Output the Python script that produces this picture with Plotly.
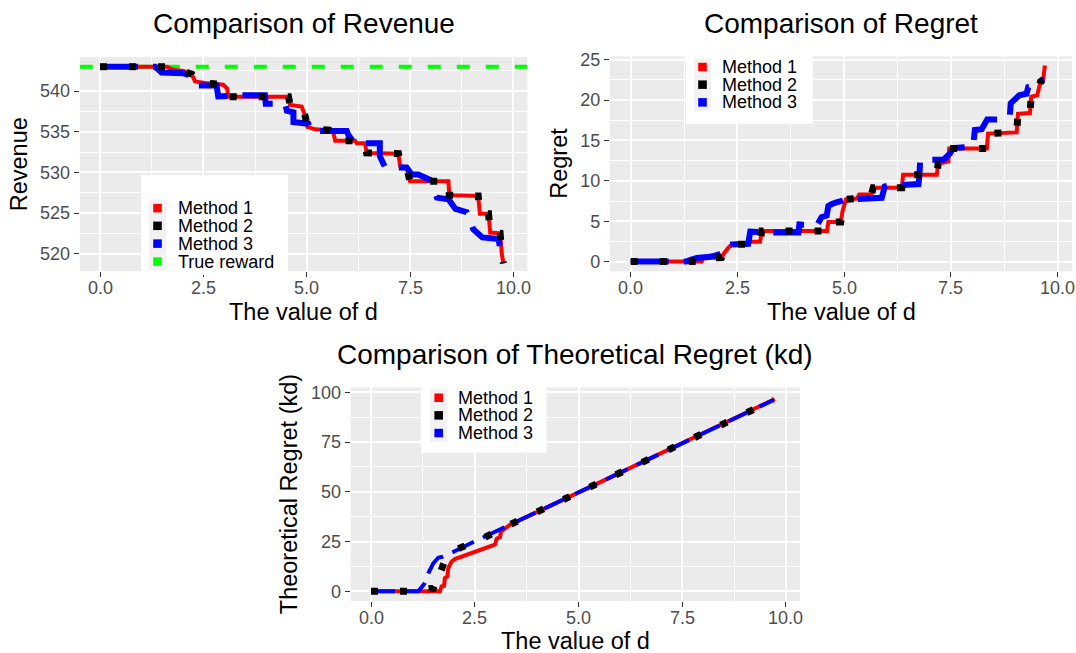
import plotly.graph_objects as go

W, H = 1076, 653

# ---------------- data ----------------
d_ticks = [0, 2.5, 5, 7.5, 10]
d_tick_labels = ["0.0", "2.5", "5.0", "7.5", "10.0"]
true_reward = 543.0

# Revenue panel
rev_m1_d = [0, 1.61, 1.69, 1.81, 2.02, 2.1, 2.22, 2.3, 2.54, 2.98, 3.08, 3.1, 4.56, 4.6, 4.88, 4.96, 5.02, 5.2, 5.55, 5.65, 5.69, 6.17, 6.21, 6.41, 6.45, 7.22, 7.26, 7.42, 7.5, 8.43, 8.45, 9.15, 9.19, 9.4, 9.44, 9.68, 9.72, 9.76]
rev_m1_v = [543.0, 543.0, 542.8, 542.6, 542.5, 542.3, 542.1, 541.2, 541.0, 540.8, 540.3, 539.3, 539.3, 538.3, 538.1, 537.0, 535.6, 535.3, 535.2, 534.8, 533.9, 533.9, 533.6, 533.6, 532.4, 532.3, 530.8, 530.6, 528.9, 528.9, 527.2, 527.1, 524.9, 524.9, 522.6, 522.5, 520.0, 518.8]
rev_m2_d = [0, 1.61, 1.69, 1.81, 2.02, 2.1, 2.22, 2.3, 2.54, 2.98, 3.08, 3.1, 4.56, 4.6, 4.88, 4.96, 5.02, 5.2, 5.55, 5.65, 5.69, 6.17, 6.21, 6.41, 6.45, 7.22, 7.26, 7.42, 7.5, 8.43, 8.45, 9.15, 9.19, 9.4, 9.44, 9.68, 9.72, 9.76]
rev_m2_v = [543.0, 543.0, 542.8, 542.6, 542.5, 542.3, 542.1, 541.2, 541.0, 540.8, 540.3, 539.3, 539.3, 538.3, 538.1, 537.0, 535.6, 535.3, 535.2, 534.7, 533.9, 533.9, 533.6, 533.6, 532.4, 532.3, 530.8, 530.6, 528.9, 528.9, 527.2, 527.1, 524.9, 524.9, 522.6, 522.5, 520.0, 518.8]
rev_m3_d = [0, 1.33, 1.45, 1.49, 2.02, 2.15, 2.3, 2.38, 2.82, 2.86, 3.35, 3.99, 4.01, 4.48, 4.52, 4.68, 4.68, 5.04, 5.1, 5.97, 6.01, 6.15, 6.77, 6.77, 6.9, 7.42, 7.54, 7.7, 7.98, 8.15, 8.43, 8.6, 8.87, 9.03, 9.25, 9.64, 9.72]
rev_m3_v = [543.0, 543.0, 542.5, 542.3, 542.2, 542.0, 541.1, 540.7, 540.7, 539.35, 539.5, 539.5, 538.45, 538.45, 537.6, 537.4, 536.2, 536.0, 535.1, 535.1, 534.6, 533.6, 533.6, 532.0, 530.6, 530.6, 529.75, 529.75, 529.1, 526.9, 526.7, 525.5, 525.1, 523.0, 522.0, 521.8, 519.6]

# Regret panel
reg_m1_d = [0, 1.66, 1.7, 2.13, 2.18, 2.27, 2.37, 2.72, 2.76, 3.03, 3.07, 4.6, 4.63, 4.92, 4.96, 5.04, 5.3, 5.35, 5.64, 5.68, 6.35, 6.38, 7.17, 7.2, 7.44, 7.46, 8.34, 8.37, 9.04, 9.07, 9.35, 9.38, 9.52, 9.6, 9.66, 9.7]
reg_m1_r = [0, 0, 0.4, 0.5, 1.0, 1.6, 2.15, 2.15, 2.45, 2.45, 3.8, 3.8, 4.9, 4.9, 6.2, 7.7, 7.8, 8.3, 8.3, 9.15, 9.15, 10.75, 10.75, 12.1, 12.4, 14.0, 14.0, 15.85, 16.0, 18.3, 18.4, 20.4, 20.6, 22.3, 22.5, 24.3]
reg_m2_d = [0, 1.66, 1.7, 2.13, 2.18, 2.27, 2.37, 2.72, 2.76, 3.03, 3.07, 4.6, 4.63, 4.92, 4.96, 5.04, 5.3, 5.35, 5.64, 5.68, 6.35, 6.38, 7.17, 7.2, 7.44, 7.46, 8.34, 8.37, 9.04, 9.07, 9.35, 9.38, 9.52, 9.6, 9.66]
reg_m2_r = [0, 0, 0.4, 0.5, 1.0, 1.6, 2.15, 2.15, 2.45, 2.45, 3.8, 3.8, 4.9, 4.9, 6.2, 7.7, 7.8, 8.3, 8.3, 9.15, 9.15, 10.75, 10.75, 12.1, 12.4, 14.0, 14.0, 15.85, 16.0, 18.3, 18.4, 20.4, 20.6, 22.3, 22.5]
reg_m3_d = [0, 1.3, 1.4, 1.55, 1.8, 1.95, 2.05, 2.2, 2.25, 2.35, 2.75, 2.8, 3.2, 3.93, 3.95, 4.36, 4.47, 4.59, 4.63, 4.7, 4.8, 5.06, 5.88, 5.95, 6.03, 6.74, 6.76, 6.78, 7.32, 7.48, 7.55, 8.02, 8.06, 8.22, 8.35, 8.65, 8.73, 8.88, 8.9, 9.1, 9.27, 9.31, 9.55, 9.6, 9.68]
reg_m3_r = [0, 0, 0.2, 0.45, 0.55, 0.7, 0.85, 1.2, 2.0, 2.1, 2.2, 3.7, 3.6, 3.6, 4.6, 4.5, 5.5, 5.7, 6.9, 7.1, 7.3, 7.7, 7.9, 9.3, 9.4, 9.6, 10.5, 12.6, 12.6, 13.4, 14.05, 14.25, 16.3, 16.4, 17.6, 17.6, 18.0, 18.1, 19.6, 20.6, 20.8, 21.6, 21.8, 22.4, 22.6]

# Theoretical regret panel
th_m1_d = [0, 1.66, 1.7, 1.76, 1.78, 1.84, 1.86, 1.9, 1.94, 2.02, 2.95, 2.99, 3.03, 3.11, 3.13, 3.35, 5.26, 9.73]
th_m1_r = [0, 0, 2.5, 2.8, 6.6, 7.5, 11.6, 13.3, 14.9, 16.2, 23.2, 23.7, 26.5, 27.3, 30.0, 33.5, 52.2, 96.6]
th_m2_d = [0, 1.2, 1.35, 1.5, 1.6, 1.63, 1.72, 1.8, 2.0, 2.73, 3.35, 5.26, 9.7]
th_m2_r = [0, 0, 1.2, 1.5, 7.0, 13.0, 12.3, 17.0, 20.5, 27.0, 33.5, 52.2, 96.1]
th_m3_d = [0, 1.14, 1.3, 1.38, 1.5, 1.62, 1.73, 1.99, 2.51, 3.35, 5.26, 9.7]
th_m3_r = [0, 0, 4.2, 9.1, 14.1, 16.9, 17.4, 19.9, 25.2, 33.5, 52.2, 96.1]

method_names = ["Method 1", "Method 2", "Method 3"]
method_colors = ["#FF0000", "#000000", "#0000FF"]
true_name = "True reward"
true_color = "#00FF00"

# ---------------- layout constants ----------------
X_RANGE = [-0.49, 10.34]
FONT = "Liberation Sans, Arial, Helvetica, sans-serif"
TICK_COLOR = "#4D4D4D"

def fx(p):
    return p / W

def fy(p):
    return 1 - p / H

panels = {
    # name: (left, top, right, bottom) in px, y range, y dtick
    "1": ((79.75, 51.6, 527.4, 268.0), [517.85, 544.2], 5),
    "2": ((609.8, 50.9, 1072.2, 268.2), [-1.21, 25.42], 5),
    "3": ((350.7, 385.6, 800.1, 601.5), [-4.87, 102.4], 25),
}

fig = go.Figure()

def sfx(k):
    return "" if k == "1" else k

def add_line(xs, ys, ax, color, width, dash):
    fig.add_trace(go.Scatter(
        x=xs, y=ys, mode="lines",
        line=dict(color=color, width=width, dash=dash, simplify=False),
        xaxis="x" + sfx(ax), yaxis="y" + sfx(ax),
        showlegend=False, hoverinfo="skip"))

# revenue
add_line(X_RANGE, [true_reward, true_reward], "1", true_color, 4, "13px,16px")
add_line(rev_m1_d, rev_m1_v, "1", method_colors[0], 4, "solid")
add_line(rev_m3_d, rev_m3_v, "1", method_colors[2], 6, "38px,15px")
add_line(rev_m2_d, rev_m2_v, "1", method_colors[1], 7, "7px,22px")
# regret
add_line(reg_m1_d, reg_m1_r, "2", method_colors[0], 4, "solid")
add_line(reg_m3_d, reg_m3_r, "2", method_colors[2], 6, "38px,15px")
add_line(reg_m2_d, reg_m2_r, "2", method_colors[1], 7, "7px,22px")
# theoretical
add_line(th_m1_d, th_m1_r, "3", method_colors[0], 4, "solid")
add_line(th_m3_d, th_m3_r, "3", method_colors[2], 4, "24px,10px")
add_line(th_m2_d, th_m2_r, "3", method_colors[1], 7, "7px,22px")

layout = dict(
    width=W, height=H,
    margin=dict(l=0, r=0, t=0, b=0),
    paper_bgcolor="white", plot_bgcolor="#EBEBEB",
    showlegend=False,
    font=dict(family=FONT, color="black"),
)

for k, ((l, t, r, b), yr, ydt) in panels.items():
    common = dict(
        showgrid=True, gridcolor="white", gridwidth=1.8,
        zeroline=False, showline=False,
        ticks="outside", ticklen=5, tickwidth=1.2, tickcolor="#333333",
        tickfont=dict(family=FONT, size=18, color=TICK_COLOR),
        fixedrange=True,
    )
    layout["xaxis" + sfx(k)] = dict(common, domain=[fx(l), fx(r)], range=X_RANGE,
                                    anchor="y" + sfx(k),
                                    tickmode="array", tickvals=d_ticks, showticklabels=False,
                                    minor=dict(dtick=1.25, tick0=0, showgrid=True,
                                               gridcolor="white", gridwidth=0.9, ticks=""))
    layout["yaxis" + sfx(k)] = dict(common, domain=[fy(b), fy(t)], range=yr,
                                    anchor="x" + sfx(k), tick0=0, dtick=ydt,
                                    minor=dict(dtick=ydt / 2, tick0=0, showgrid=True,
                                               gridcolor="white", gridwidth=0.9, ticks=""))

fig.update_layout(**layout)

ann = []
def text(x, y, s, size, color="black", xanchor="center", angle=0, xref="paper"):
    ann.append(dict(x=(fx(x) if xref == "paper" else x), y=fy(y), xref=xref, yref="paper",
                    text=s, showarrow=False, xanchor=xanchor, yanchor="middle",
                    textangle=angle, font=dict(family=FONT, size=size, color=color)))

# x tick labels (placed through each x axis)
for k, ((l, t, r, b), yr, ydt) in panels.items():
    for v, lab in zip(d_ticks, d_tick_labels):
        text(v, b + 17, lab, 18, color=TICK_COLOR, xref="x" + sfx(k))

# titles
text(303.5, 17.5, "Comparison of Revenue", 28)
text(841, 17.5, "Comparison of Regret", 28)
text(575.4, 352.5, "Comparison of Theoretical Regret (kd)", 28)
# axis titles
text(303.5, 309, "The value of d", 23.5)
text(841, 309, "The value of d", 23.5)
text(575.4, 642, "The value of d", 23.5)
text(19, 160, "Revenue", 23.5, angle=-90)
text(559, 159.5, "Regret", 23.5, angle=-90)
text(289, 493.5, "Theoretical Regret (kd)", 23.5, angle=-90)

shapes = []
def rect(x0, y0, x1, y1, color):
    shapes.append(dict(type="rect", xref="paper", yref="paper",
                       x0=fx(x0), x1=fx(x1), y0=fy(y1), y1=fy(y0),
                       fillcolor=color, line=dict(width=0), layer="above"))

def legend(box, kx, kys, labels, colors, tx):
    rect(*box, "white")
    rect(kx - 8.6, kys[0] - 9.0, kx + 8.6, kys[-1] + 9.0, "#F2F2F2")
    for ky, lab, col in zip(kys, labels, colors):
        rect(kx - 4.3, ky - 4.3, kx + 4.3, ky + 4.3, col)
        text(tx, ky, lab, 18, xanchor="left")

legend((141, 171, 288, 272), 157.5, [204.3, 222.2, 240.2, 258.3],
       method_names + [true_name], method_colors + [true_color], 175.6)
legend((686, 44, 812.7, 119), 702.5, [61.7, 79.5, 97.4],
       method_names, method_colors, 719.8)
legend((420.8, 383, 546.5, 451.7), 438.7, [396.0, 413.8, 431.7],
       method_names, method_colors, 456)

fig.update_layout(annotations=ann, shapes=shapes)
fig.write_html("out.html", config={"displayModeBar": False},
               post_script="document.body.style.margin='0';document.body.style.overflow='hidden';")
